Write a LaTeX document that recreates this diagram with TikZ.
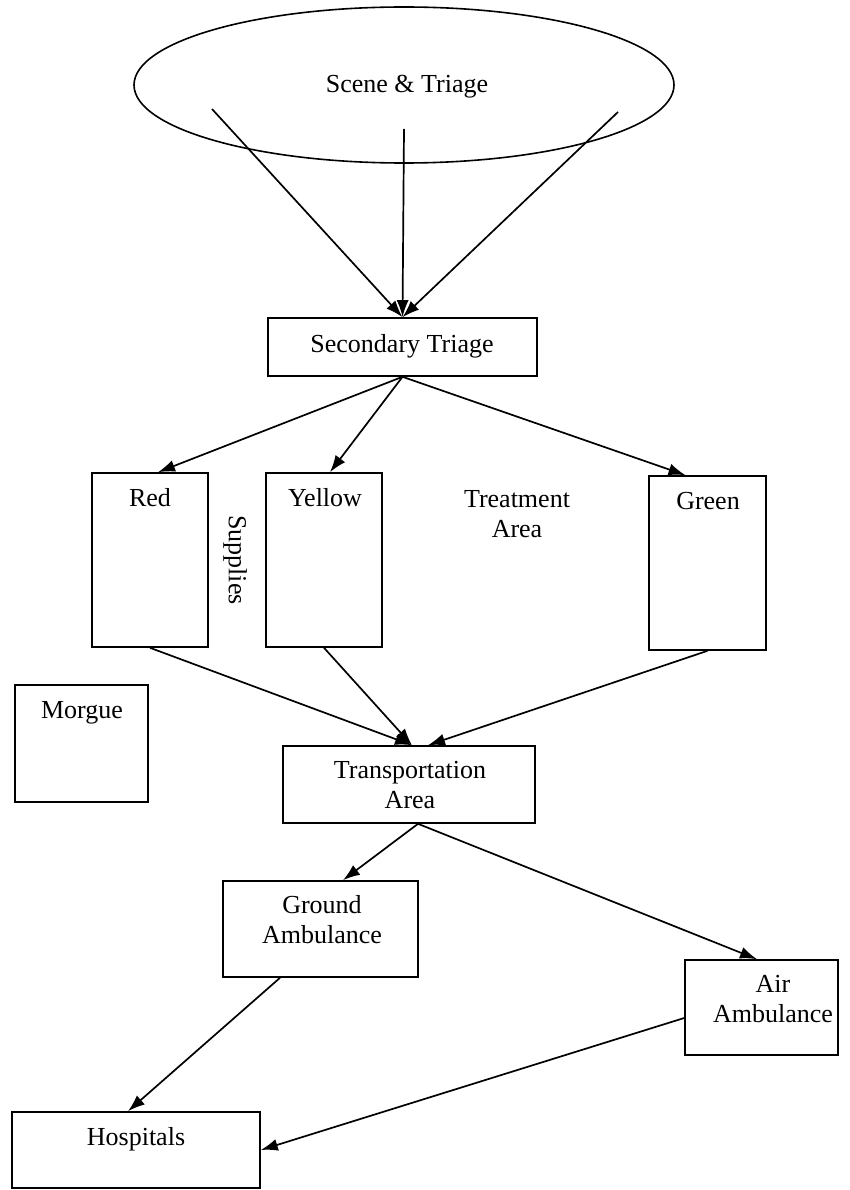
\documentclass[tikz,border=0pt]{standalone}
\usepackage{fontspec}
\setmainfont{Liberation Serif}
\usetikzlibrary{arrows.meta,shapes.geometric}
\begin{document}
\begin{tikzpicture}[x=1pt,y=-1pt,
  box/.style={draw,line width=1.6pt,inner sep=0pt,rectangle},
  txt/.style={inner sep=0pt,font=\fontsize{26}{30}\selectfont,align=center},
  conn/.style={line width=1.7pt,-{Latex[length=17pt,width=12pt]}}]
\useasboundingbox (0,0) rectangle (850,1190);
% shapes
\node[draw,line width=1.6pt,ellipse,inner sep=0pt,minimum width=540pt,minimum height=156pt] (scene) at (404,85) {};
\node[box,minimum width=269pt,minimum height=58pt] (st) at (402.5,347) {};
\node[box,minimum width=116pt,minimum height=174pt] (red) at (150,560) {};
\node[box,minimum width=116pt,minimum height=174pt] (yellow) at (324,560) {};
\node[box,minimum width=117pt,minimum height=174pt] (green) at (707.5,563) {};
\node[box,minimum width=133pt,minimum height=117pt] (morgue) at (81.5,743.5) {};
\node[box,minimum width=252pt,minimum height=77pt] (trans) at (409,784.5) {};
\node[box,minimum width=195pt,minimum height=96pt] (ground) at (320.5,929) {};
\node[box,minimum width=153pt,minimum height=95pt] (air) at (761.5,1007.5) {};
\node[box,minimum width=248pt,minimum height=76pt] (hosp) at (136,1150) {};
% texts
\node[txt,anchor=base] (tscene) at (407,93) {Scene \& Triage};
\node[txt,anchor=base] (tst) at (402,352) {Secondary Triage};
\node[txt,anchor=base] (tred) at (150,506) {Red};
\node[txt,anchor=base] (tyellow) at (325,506) {Yellow};
\node[txt,anchor=base] (tgreen) at (708,509) {Green};
\node[txt,anchor=base] (ttreat) at (517,537) {Treatment\\Area};
\node[txt,rotate=-90] (tsup) at (235,560) {Supplies};
\node[txt,anchor=base] (tmorgue) at (82,718) {Morgue};
\node[txt,anchor=base] (ttrans) at (410,808) {Transportation\\Area};
\node[txt,anchor=base] (tground) at (322,943) {Ground\\Ambulance};
\node[txt,anchor=base] (tair) at (773,1022) {Air\\Ambulance};
\node[txt,anchor=base] (thosp) at (136,1145) {Hospitals};
% start points inside the ellipse
\coordinate (s1) at (212,109);
\coordinate (s2) at (404,129);
\coordinate (s3) at (618,112);
% connectors
\draw[conn] (s1) -- (st.north);
\draw[conn] (s2) -- (st.north);
\draw[conn] (s3) -- (st.north);
\draw[conn] (st.south) -- ([xshift=8pt]red.north);
\draw[conn] (st.south) -- ([xshift=6pt]yellow.north);
\draw[conn] (st.south) -- ([xshift=-22pt]green.north);
\draw[conn] (red.south) -- ([xshift=3pt]trans.north);
\draw[conn] (yellow.south) -- ([xshift=3pt]trans.north);
\draw[conn] (green.south) -- ([xshift=19pt]trans.north);
\draw[conn] ([xshift=9pt]trans.south) -- ([xshift=22.5pt]ground.north);
\draw[conn] ([xshift=9pt]trans.south) -- ([xshift=-4.5pt]air.north);
\draw[conn] ([xshift=-40.5pt]ground.south) -- ([xshift=-8pt]hosp.north);
\draw[conn] ([yshift=-10.5pt]air.west) -- (hosp.east);
\end{tikzpicture}
\end{document}
